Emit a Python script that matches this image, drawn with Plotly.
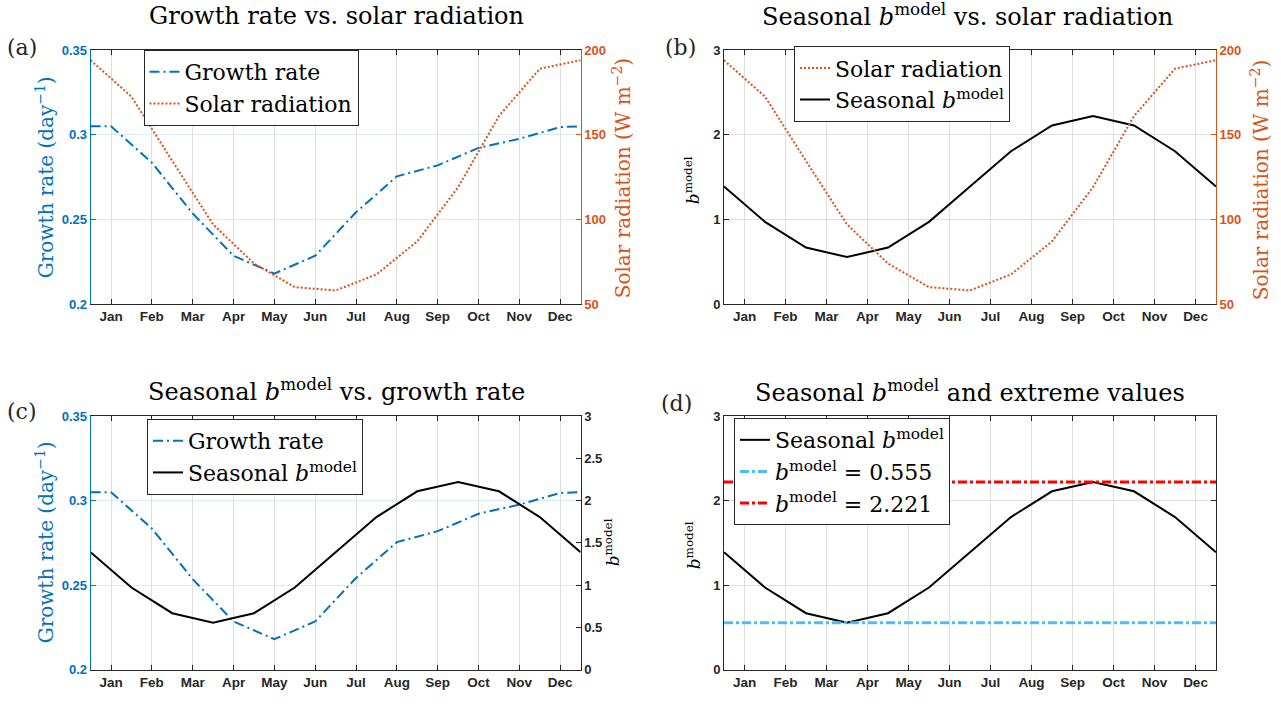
import plotly.graph_objects as go

# ---------------- data ----------------
months = ["Jan", "Feb", "Mar", "Apr", "May", "Jun", "Jul", "Aug", "Sep", "Oct", "Nov", "Dec"]
month_ticks = [1, 2, 3, 4, 5, 6, 7, 8, 9, 10, 11, 12]

growth_x = [0.5, 1, 2, 3, 4, 5, 6, 7, 8, 9, 10, 11, 12, 12.5]
growth_rate = [0.305, 0.305, 0.2835, 0.2535, 0.2285, 0.218, 0.2285, 0.2542,
               0.2754, 0.2819, 0.2922, 0.2976, 0.3045, 0.305]

season_x = [0.5, 1.5, 2.5, 3.5, 4.5, 5.5, 6.5, 7.5, 8.5, 9.5, 10.5, 11.5, 12.5]
solar_radiation = [194, 172.5, 134.5, 97, 74, 60, 58, 67.5, 87, 119, 161, 189, 194]
b_model = [1.388, 0.971, 0.667, 0.555, 0.667, 0.971, 1.388, 1.805, 2.11, 2.221,
           2.11, 1.805, 1.388]

b_min = 0.555
b_max = 2.221
line_span = [0.5, 12.5]

growth_ticks = [0.2, 0.25, 0.3, 0.35]
growth_ticktext = ["0.2", "0.25", "0.3", "0.35"]
solar_ticks = [50, 100, 150, 200]
solar_ticktext = ["50", "100", "150", "200"]
b_ticks = [0, 1, 2, 3]
b_ticktext = ["0", "1", "2", "3"]
b_ticks_fine = [0, 0.5, 1, 1.5, 2, 2.5, 3]
b_ticktext_fine = ["0", "0.5", "1", "1.5", "2", "2.5", "3"]

# ---------------- style ----------------
W, H = 1281, 704


def fx(p):
    return p / W


def fy(p):
    return 1 - p / H


XL = [fx(90.6), fx(580.6)]
XR = [fx(724), fx(1216)]
YT = [fy(303.5), fy(44)]
YB = [fy(677), fy(418)]

DARK = "#262626"
BLUE = "#0072BD"
ORANGE = "#D95319"
CYAN = "#4DBEEE"
RED = "#FF0000"
GRID = "#dedede"
GRID_BLUE = "#d9eaf5"
SERIF = "DejaVu Serif"
SANS = "Liberation Sans"

BMODEL = "<i>b</i><sup>model</sup>"


def tfont(c, size=13):
    return dict(family=SANS, size=size, color=c, weight="bold")


def xaxis(domain, anchor):
    return dict(domain=domain, anchor=anchor, range=[0.5, 12.5],
                tickmode="array", tickvals=month_ticks, ticktext=months,
                ticks="inside", ticklen=5, tickcolor=DARK, tickwidth=1,
                showline=True, linecolor=DARK, linewidth=1, mirror="ticks",
                showgrid=True, gridcolor=GRID, gridwidth=1, zeroline=False,
                tickfont=tfont(DARK, 13.5), fixedrange=True)


def yleft(domain, anchor, rng, tv, tt, color, grid, mirror=False):
    return dict(domain=domain, anchor=anchor, range=rng, side="left",
                tickmode="array", tickvals=tv, ticktext=tt,
                ticks="inside", ticklen=5, tickcolor=color, tickwidth=1,
                showline=True, linecolor=color, linewidth=1,
                mirror="ticks" if mirror else False,
                showgrid=True, gridcolor=grid, gridwidth=1, zeroline=False,
                tickfont=tfont(color, 13), fixedrange=True)


def yright(overlay, anchor, rng, tv, tt, color):
    return dict(overlaying=overlay, anchor=anchor, side="right", range=rng,
                tickmode="array", tickvals=tv, ticktext=tt,
                ticks="inside", ticklen=5, tickcolor=color, tickwidth=1,
                showline=True, linecolor=color, linewidth=1,
                showgrid=False, zeroline=False,
                tickfont=tfont(color, 13), fixedrange=True)


growth_line = dict(color=BLUE, width=2, dash="10px,4px,2px,4px")
solar_line = dict(color=ORANGE, width=2, dash="2px,2px")
b_line = dict(color="black", width=2)

fig = go.Figure()

# (a)
fig.add_trace(go.Scatter(x=growth_x, y=growth_rate, xaxis="x", yaxis="y", mode="lines",
                         line=growth_line, name="Growth rate", legend="legend"))
fig.add_trace(go.Scatter(x=season_x, y=solar_radiation, xaxis="x", yaxis="y2", mode="lines",
                         line=solar_line, name="Solar radiation", legend="legend"))
# (b)
fig.add_trace(go.Scatter(x=season_x, y=solar_radiation, xaxis="x2", yaxis="y4", mode="lines",
                         line=solar_line, name="Solar radiation", legend="legend2"))
fig.add_trace(go.Scatter(x=season_x, y=b_model, xaxis="x2", yaxis="y3", mode="lines",
                         line=b_line, name="Seasonal " + BMODEL, legend="legend2"))
# (c)
fig.add_trace(go.Scatter(x=growth_x, y=growth_rate, xaxis="x3", yaxis="y5", mode="lines",
                         line=growth_line, name="Growth rate", legend="legend3"))
fig.add_trace(go.Scatter(x=season_x, y=b_model, xaxis="x3", yaxis="y6", mode="lines",
                         line=b_line, name="Seasonal " + BMODEL, legend="legend3"))
# (d)
fig.add_trace(go.Scatter(x=season_x, y=b_model, xaxis="x4", yaxis="y7", mode="lines",
                         line=b_line, name="Seasonal " + BMODEL, legend="legend4"))
fig.add_trace(go.Scatter(x=line_span, y=[b_min, b_min], xaxis="x4", yaxis="y7", mode="lines",
                         line=dict(color=CYAN, width=3, dash="9px,3px,3px,3px"),
                         name=BMODEL + " = 0.555", legend="legend4"))
fig.add_trace(go.Scatter(x=line_span, y=[b_max, b_max], xaxis="x4", yaxis="y7", mode="lines",
                         line=dict(color=RED, width=3, dash="9px,3px,3px,3px"),
                         name=BMODEL + " = 2.221", legend="legend4"))


def legend(xc, ytop):
    return dict(x=fx(xc), y=fy(ytop), xanchor="center", yanchor="top",
                xref="paper", yref="paper",
                bgcolor="white", bordercolor=DARK, borderwidth=1,
                font=dict(family=SERIF, size=22, color="black"),
                traceorder="normal", tracegroupgap=0, itemwidth=30)


def ann(text, x, y, size=24, color="black", angle=0):
    return dict(text=text, x=fx(x), y=fy(y), xref="paper", yref="paper",
                xanchor="center", yanchor="middle", showarrow=False,
                textangle=angle, font=dict(family=SERIF, size=size, color=color))


annotations = [
    ann("Growth rate vs. solar radiation", 336, 9),
    ann("Seasonal " + BMODEL + " vs. solar radiation", 968, 8),
    ann("Seasonal " + BMODEL + " vs. growth rate", 336, 391),
    ann("Seasonal " + BMODEL + " and extreme values", 970, 392),
    ann("(a)", 22, 41, 22, DARK),
    ann("(b)", 680, 41, 22, DARK),
    ann("(c)", 22, 413, 22, DARK),
    ann("(d)", 676, 405, 22, DARK),
    ann("Growth rate (day<sup>−1</sup>)", 45, 174, 20, BLUE, -90),
    ann("Solar radiation (W m<sup>−2</sup>)", 622, 175, 20, ORANGE, -90),
    ann(BMODEL, 692, 177, 17, "black", -90),
    ann("Solar radiation (W m<sup>−2</sup>)", 1260, 177, 20, ORANGE, -90),
    ann("Growth rate (day<sup>−1</sup>)", 45, 547, 20, BLUE, -90),
    ann(BMODEL, 612, 547, 17, "black", -90),
    ann(BMODEL, 693, 550, 17, "black", -90),
]

fig.update_layout(
    width=W, height=H, autosize=False,
    margin=dict(l=0, r=0, t=0, b=0),
    paper_bgcolor="white", plot_bgcolor="white",
    showlegend=True,
    xaxis=xaxis(XL, "y"),
    yaxis=yleft(YT, "x", [0.2, 0.35], growth_ticks, growth_ticktext, BLUE, GRID_BLUE),
    yaxis2=yright("y", "x", [50, 200], solar_ticks, solar_ticktext, ORANGE),
    xaxis2=xaxis(XR, "y3"),
    yaxis3=yleft(YT, "x2", [0, 3], b_ticks, b_ticktext, DARK, GRID),
    yaxis4=yright("y3", "x2", [50, 200], solar_ticks, solar_ticktext, ORANGE),
    xaxis3=xaxis(XL, "y5"),
    yaxis5=yleft(YB, "x3", [0.2, 0.35], growth_ticks, growth_ticktext, BLUE, GRID_BLUE),
    yaxis6=yright("y5", "x3", [0, 3], b_ticks_fine, b_ticktext_fine, DARK),
    xaxis4=xaxis(XR, "y7"),
    yaxis7=yleft(YB, "x4", [0, 3], b_ticks, b_ticktext, DARK, GRID, mirror=True),
    legend=legend(251, 44),
    legend2=legend(902, 40),
    legend3=legend(255, 421),
    legend4=legend(842, 420),
    annotations=annotations,
)

fig.write_html("out.html")
